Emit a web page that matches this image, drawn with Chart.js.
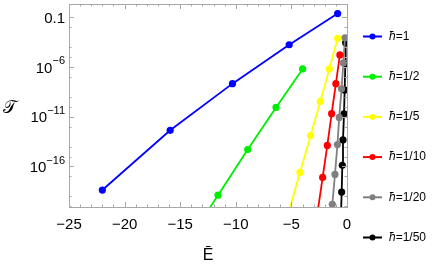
<!DOCTYPE html>
<html><head><meta charset="utf-8">
<script src="https://cdn.jsdelivr.net/npm/chart.js"></script>
<style>html,body{margin:0;padding:0;background:#fff}#wrap{width:436px;height:273px;position:relative}</style>
</head><body><div id="wrap"><canvas id="c" width="436" height="273"></canvas></div>
<script>
// ---- data ----
const seriesLabels = ['ħ=1', 'ħ=1/2', 'ħ=1/5', 'ħ=1/10', 'ħ=1/20', 'ħ=1/50'];
const seriesColors = ['#0000ff', '#00ee00', '#ffff00', '#ff0000', '#808080', '#000000'];

const E_h1 = [-22.0, -15.9, -10.3, -5.2, -0.84];
const T_h1 = [4.3e-19, 4.3e-13, 2.1e-8, 1.7e-4, 0.23];

const E_h2 = [-14.3, -11.6, -8.93, -6.38, -3.99];
const T_h2 = [3e-24, 1.3e-19, 5e-15, 8.5e-11, 6.3e-7];

const E_h5 = [-5.25, -4.23, -3.27, -2.40, -1.59, -0.84];
const T_h5 = [2.5e-21, 2.5e-17, 1.3e-13, 3.4e-10, 6.3e-7, 7.4e-4];

const E_h10 = [-2.62, -2.19, -1.77, -1.38, -1.0, -0.64];
const T_h10 = [4e-21, 8e-18, 1.3e-14, 2e-11, 2.1e-8, 1.6e-5];

const E_h20 = [-1.55, -1.32, -1.08, -0.86, -0.70, -0.49, -0.33, -0.18];
const T_h20 = [1.6e-23, 1.6e-20, 1.6e-17, 1.6e-14, 8.5e-12, 6.3e-9, 2.5e-6, 8.5e-4];

const E_h50 = [-0.55, -0.48, -0.42, -0.36, -0.27, -0.21, -0.15, -0.12];
const T_h50 = [6e-22, 2.7e-19, 1.3e-16, 4.7e-14, 1.9e-11, 4.7e-9, 1.9e-6, 2.7e-4];

const xTickValues = [-25, -20, -15, -10, -5, 0];
const xTickLabels = ['\u221225', '\u221220', '\u221215', '\u221210', '\u22125', '0'];
const xMinorTicks = [-24,-23,-22,-21,-19,-18,-17,-16,-14,-13,-12,-11,-9,-8,-7,-6,-4,-3,-2,-1];
const yTickValues = [1e-1, 1e-6, 1e-11, 1e-16];
const yTickBase = ['0.1', '10', '10', '10'];
const yTickExp = ['', '\u22126', '\u221211', '\u221216'];
const yMinorTicks = [1e-2,1e-4,1e-5,1e-7,1e-9,1e-10,1e-12,1e-14,1e-15,1e-17,1e-19,1e-20];
const xTitle = 'Ē';
const yTitle = '𝒯';

const allE = [E_h1, E_h2, E_h5, E_h10, E_h20, E_h50];
const allT = [T_h1, T_h2, T_h5, T_h10, T_h20, T_h50];

const datasets = seriesLabels.map((lab, k) => ({
  label: lab,
  data: allE[k].map((e, i) => ({x: e, y: allT[k][i]})),
  borderColor: seriesColors[k],
  backgroundColor: seriesColors[k],
  pointBackgroundColor: seriesColors[k],
  pointBorderWidth: 0,
  pointRadius: 3.6,
  borderWidth: 1.8,
  tension: 0,
  clip: 0
}));

const FONT = '"Liberation Sans", Arial, sans-serif';
const frameColor = '#a8a8a8';

const decor = {
  id: 'decor',
  afterDraw(chart) {
    const ctx = chart.ctx, a = chart.chartArea;
    const xs = chart.scales.x, ys = chart.scales.y;
    ctx.save();
    // frame
    ctx.strokeStyle = frameColor; ctx.lineWidth = 1;
    ctx.strokeRect(Math.round(a.left) + 0.5, Math.round(a.top) + 0.5,
      Math.round(a.right - a.left), Math.round(a.bottom - a.top));
    // ticks
    ctx.beginPath();
    const tickX = (v, len) => {
      const px = Math.round(xs.getPixelForValue(v)) + 0.5;
      ctx.moveTo(px, a.bottom); ctx.lineTo(px, a.bottom - len);
      ctx.moveTo(px, a.top); ctx.lineTo(px, a.top + len);
    };
    const tickY = (v, len) => {
      const py = Math.round(ys.getPixelForValue(v)) + 0.5;
      ctx.moveTo(a.left, py); ctx.lineTo(a.left + len, py);
      ctx.moveTo(a.right, py); ctx.lineTo(a.right - len, py);
    };
    xTickValues.forEach(v => tickX(v, 5));
    xMinorTicks.forEach(v => tickX(v, 2.5));
    yTickValues.forEach(v => tickY(v, 5));
    yMinorTicks.forEach(v => tickY(v, 2.5));
    ctx.stroke();
    // x tick labels
    ctx.fillStyle = '#000';
    ctx.font = '15px ' + FONT;
    ctx.textAlign = 'center'; ctx.textBaseline = 'middle';
    xTickValues.forEach((v, i) => {
      ctx.fillText(xTickLabels[i], xs.getPixelForValue(v), 225);
    });
    // y tick labels
    const rightX = a.left - 4;
    yTickValues.forEach((v, i) => {
      const py = ys.getPixelForValue(v) + 1.5;
      ctx.textBaseline = 'middle';
      if (yTickExp[i]) {
        ctx.font = '11px ' + FONT;
        ctx.textAlign = 'right';
        const ew = ctx.measureText(yTickExp[i]).width;
        ctx.fillText(yTickExp[i], rightX, py - 7.5);
        ctx.font = '15px ' + FONT;
        ctx.fillText(yTickBase[i], rightX - ew, py);
      } else {
        ctx.font = '15px ' + FONT;
        ctx.textAlign = 'right';
        ctx.fillText(yTickBase[i], rightX, py);
      }
    });
    // axis titles
    ctx.font = '16px ' + FONT;
    ctx.textAlign = 'center'; ctx.textBaseline = 'middle';
    ctx.fillText(xTitle, (a.left + a.right) / 2, 256);
    ctx.font = '18px "DejaVu Serif", "Liberation Serif", serif';
    ctx.fillText(yTitle, 10, 108);
    // legend
    const legX0 = 363, legX1 = 382, legTx = 389, legY0 = 36.5, legDy = 40.2;
    seriesLabels.forEach((lab, k) => {
      const y = legY0 + k * legDy;
      ctx.strokeStyle = seriesColors[k]; ctx.lineWidth = 2;
      ctx.beginPath(); ctx.moveTo(legX0, y); ctx.lineTo(legX1, y); ctx.stroke();
      ctx.fillStyle = seriesColors[k];
      ctx.beginPath(); ctx.arc((legX0 + legX1) / 2, y, 3, 0, Math.PI * 2); ctx.fill();
      ctx.fillStyle = '#000';
      ctx.textAlign = 'left'; ctx.textBaseline = 'middle';
      ctx.font = 'italic 12px ' + FONT;
      const h = lab.charAt(0);
      ctx.fillText(h, legTx, y);
      const hw = ctx.measureText(h).width;
      ctx.font = '12px ' + FONT;
      ctx.fillText(lab.slice(1), legTx + hw, y);
    });
    ctx.restore();
  }
};

new Chart(document.getElementById('c'), {
  type: 'line',
  data: { datasets },
  options: {
    responsive: false,
    animation: false,
    devicePixelRatio: 1,
    layout: { padding: { left: 69, right: 89, top: 3, bottom: 66 } },
    scales: {
      x: { type: 'linear', min: -25, max: 0, display: false },
      y: { type: 'logarithmic', min: 8.5e-21, max: 2.1, display: false }
    },
    plugins: { legend: { display: false }, tooltip: { enabled: false } }
  },
  plugins: [decor]
});
</script>
</body></html>
